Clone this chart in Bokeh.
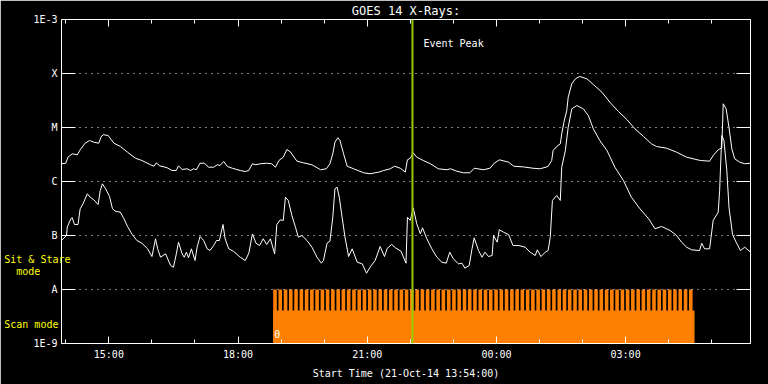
from bokeh.plotting import figure
from bokeh.models import (Range1d, FixedTicker, LinearAxis, LogAxis, Span, Label,
                          CustomJSTickFormatter)
from bokeh.embed import file_html
from bokeh.resources import INLINE

# ---------------- data (time in minutes after 21-Oct-14 13:54:00, flux in W/m^2) -------------
long_t = [0, 6, 9, 15, 22, 26, 33, 39, 45, 52,
          55, 58, 65, 73, 82, 92, 103, 112, 124, 129,
          132, 137, 147, 154, 160, 163, 168, 175, 180, 184,
          188, 193, 199, 205, 212, 217, 221, 226, 231, 238,
          249, 256, 261, 266, 270, 277, 286, 293, 298, 303,
          309, 314, 319, 328, 337, 349, 361, 369, 374, 378,
          381, 385, 388, 393, 398, 407, 421, 430, 442, 449,
          458, 464, 472, 479, 482, 486, 490, 495, 504, 514,
          525, 537, 542, 551, 560, 569, 575, 588, 597, 603,
          610, 623, 630, 644, 657, 667, 678, 683, 685, 690,
          695, 697, 700, 704, 706, 711, 716, 722, 732, 741,
          753, 764, 776, 788, 799, 811, 822, 829, 843, 857,
          871, 890, 903, 908, 915, 920, 922, 926, 930, 934,
          938, 945, 952, 960]
long_flux = [2.13e-6, 2.18e-6, 2.82e-6, 3.26e-6, 3.12e-6, 3.86e-6, 5.12e-6, 5.74e-6, 5.34e-6, 5.12e-6,
             6.64e-6, 7.36e-6, 7.11e-6, 5.12e-6, 4.45e-6, 3.49e-6, 2.70e-6, 2.45e-6, 2.04e-6, 1.92e-6,
             2.22e-6, 1.95e-6, 1.80e-6, 1.60e-6, 1.60e-6, 1.95e-6, 1.67e-6, 1.72e-6, 1.60e-6, 1.72e-6,
             1.65e-6, 2.18e-6, 2.18e-6, 1.84e-6, 1.84e-6, 2.04e-6, 1.98e-6, 2.35e-6, 1.90e-6, 1.76e-6,
             1.60e-6, 1.53e-6, 1.60e-6, 2.13e-6, 2.04e-6, 2.13e-6, 2.18e-6, 2.13e-6, 1.84e-6, 2.45e-6,
             2.82e-6, 3.91e-6, 3.52e-6, 2.38e-6, 2.22e-6, 2.04e-6, 1.65e-6, 1.72e-6, 2.13e-6, 3.26e-6,
             5.34e-6, 6.45e-6, 5.74e-6, 3.26e-6, 1.92e-6, 1.72e-6, 1.45e-6, 1.39e-6, 1.49e-6, 1.60e-6,
             1.72e-6, 1.92e-6, 1.76e-6, 1.49e-6, 2.52e-6, 2.70e-6, 3.40e-6, 2.82e-6, 2.45e-6, 2.13e-6,
             1.72e-6, 1.65e-6, 1.72e-6, 1.55e-6, 1.45e-6, 1.45e-6, 1.76e-6, 1.65e-6, 1.76e-6, 2.18e-6,
             2.52e-6, 2.28e-6, 1.92e-6, 1.86e-6, 1.76e-6, 1.72e-6, 1.90e-6, 2.45e-6, 3.75e-6, 4.45e-6,
             4.99e-6, 7.64e-6, 1.25e-5, 2.06e-5, 3.64e-5, 6.44e-5, 7.98e-5, 8.80e-5, 7.98e-5, 6.25e-5,
             4.51e-5, 2.94e-5, 1.98e-5, 1.39e-5, 9.46e-6, 6.81e-6, 4.99e-6, 4.45e-6, 4.14e-6, 3.49e-6,
             2.82e-6, 2.45e-6, 2.38e-6, 3.03e-6, 3.86e-6, 4.21e-6, 2.75e-5, 2.22e-5, 1.01e-5, 4.03e-6,
             2.63e-6, 2.28e-6, 2.13e-6, 2.18e-6]

short_t = [0, 7, 8, 13, 15, 18, 23, 26, 30, 36,
           40, 45, 51, 54, 57, 61, 67, 71, 75, 82,
           87, 92, 98, 105, 112, 120, 126, 131, 134, 138,
           145, 152, 156, 160, 163, 168, 171, 174, 177, 181,
           186, 189, 193, 198, 203, 207, 212, 216, 220, 225,
           228, 233, 240, 249, 256, 261, 266, 271, 276, 281,
           286, 291, 297, 300, 305, 309, 312, 316, 321, 326,
           330, 335, 342, 349, 356, 362, 365, 370, 374, 378,
           381, 384, 387, 391, 395, 400, 405, 412, 419, 425,
           430, 437, 444, 450, 454, 460, 466, 473, 480, 482,
           486, 490, 495, 500, 503, 509, 516, 523, 530, 536,
           541, 546, 553, 558, 562, 568, 572, 575, 581, 586,
           590, 595, 600, 602, 607, 610, 616, 623, 629, 637,
           646, 653, 660, 663, 668, 674, 678, 681, 684, 690,
           695, 697, 702, 706, 711, 718, 727, 734, 741, 750,
           760, 771, 783, 794, 806, 818, 827, 836, 848, 857,
           864, 871, 878, 889, 892, 896, 903, 908, 915, 917,
           920, 923, 927, 930, 935, 940, 946, 952, 960]
short_flux = [8.08e-8, 1.00e-7, 1.42e-7, 2.04e-7, 2.13e-7, 1.60e-7, 1.60e-7, 3.12e-7, 3.86e-7, 5.92e-7,
              5.12e-7, 4.58e-7, 3.75e-7, 6.81e-7, 9.06e-7, 7.51e-7, 5.27e-7, 3.12e-7, 2.82e-7, 2.70e-7,
              2.04e-7, 1.47e-7, 1.07e-7, 8.08e-8, 7.20e-8, 5.67e-8, 4.08e-8, 8.69e-8, 5.67e-8, 3.96e-8,
              4.58e-8, 2.78e-8, 2.59e-8, 4.58e-8, 7.51e-8, 4.58e-8, 3.96e-8, 4.91e-8, 3.86e-8, 5.67e-8,
              3.44e-8, 6.07e-8, 9.58e-8, 8.08e-8, 5.67e-8, 5.27e-8, 6.53e-8, 8.08e-8, 8.08e-8, 1.60e-7,
              8.69e-8, 5.67e-8, 5.06e-8, 3.96e-8, 3.44e-8, 4.70e-8, 1.07e-7, 7.20e-8, 6.53e-8, 8.69e-8,
              6.81e-8, 8.69e-8, 4.58e-8, 1.60e-7, 1.95e-7, 1.90e-7, 5.12e-7, 4.45e-7, 2.35e-7, 1.42e-7,
              9.31e-8, 1.00e-7, 8.08e-8, 6.07e-8, 3.96e-8, 3.07e-8, 3.44e-8, 7.20e-8, 7.84e-8, 2.18e-7,
              7.33e-7, 7.83e-7, 5.12e-7, 2.18e-7, 9.31e-8, 4.08e-8, 5.67e-8, 3.20e-8, 2.99e-8, 2.00e-8,
              2.59e-8, 3.44e-8, 6.25e-8, 4.08e-8, 5.82e-8, 6.81e-8, 5.82e-8, 5.12e-8, 3.07e-8, 2.18e-7,
              1.90e-7, 3.26e-7, 1.65e-7, 1.07e-7, 1.39e-7, 8.69e-8, 5.67e-8, 3.96e-8, 3.20e-8, 3.07e-8,
              4.91e-8, 3.70e-8, 2.99e-8, 3.07e-8, 2.48e-8, 2.78e-8, 5.67e-8, 9.06e-8, 5.27e-8, 3.96e-8,
              4.91e-8, 4.08e-8, 4.26e-8, 1.00e-7, 7.51e-8, 1.28e-7, 1.15e-7, 1.04e-7, 6.53e-8, 6.53e-8,
              6.07e-8, 4.91e-8, 4.26e-8, 5.43e-8, 4.08e-8, 4.91e-8, 5.27e-8, 9.31e-8, 4.45e-7, 5.51e-7,
              4.45e-7, 1.84e-6, 3.75e-6, 1.01e-5, 2.22e-5, 2.55e-5, 2.22e-5, 1.67e-5, 9.46e-6, 5.74e-6,
              3.75e-6, 1.84e-6, 1.04e-6, 5.12e-7, 3.12e-7, 2.04e-7, 1.33e-7, 1.47e-7, 1.24e-7, 1.00e-7,
              7.51e-8, 6.07e-8, 5.43e-8, 5.27e-8, 7.20e-8, 5.67e-8, 5.67e-8, 1.90e-7, 2.70e-7, 6.81e-7,
              7.11e-6, 5.74e-6, 1.60e-6, 3.34e-7, 1.04e-7, 7.51e-8, 5.27e-8, 6.07e-8, 4.91e-8]

# IRIS scan-mode raster start times (minutes) and the scan window
raster_start = [295.0, 302.3, 309.7, 317.0, 324.3, 331.7, 339.0, 346.3, 353.6, 361.0,
                368.3, 375.6, 383.0, 390.3, 397.6, 405.0, 412.3, 419.6, 427.0, 434.3,
                441.6, 449.0, 456.3, 463.6, 471.0, 478.3, 485.6, 493.0, 500.3, 507.6,
                515.0, 522.3, 529.6, 537.0, 544.3, 551.6, 559.0, 566.3, 573.6, 581.0,
                588.3, 595.6, 603.0, 610.3, 617.6, 625.0, 632.3, 639.6, 647.0, 654.3,
                661.6, 669.0, 676.3, 683.6, 691.0, 698.3, 705.6, 713.0, 720.3, 727.6,
                735.0, 742.3, 749.6, 757.0, 764.3, 771.6, 779.0, 786.3, 793.6, 801.0,
                808.3, 815.6, 823.0, 830.3, 837.6, 845.0, 852.3, 859.6, 867.0, 874.3]
raster_end = [t + 5.0 for t in raster_start]
scan_start = 295.0
scan_end = 882.0
scan_base_top = 4.1e-9
raster_top = 1e-8

event_peak = 489

x_major = [66, 246, 426, 606, 786]
x_labels = ["15:00", "18:00", "21:00", "00:00", "03:00"]
x_minor = [6, 66, 126, 186, 246, 306, 366, 426, 486, 546, 606, 666, 726, 786, 846, 906]

y_ticks = [1e-9, 1e-8, 1e-7, 1e-6, 1e-5, 1e-4, 1e-3]
y_labels = ["1E-9", "A", "B", "C", "M", "X", "1E-3"]

# observing-mode notes on the left margin
mode_pos = [2.25e-9, 2.15e-8, 3.59e-8]
mode_labels = ["Scan mode\u00a0\u00a0", "mode" + "\u00a0" * 5, "Sit & Stare"]

FONT = "DejaVu Sans Mono"
FS = "10px"

p = figure(width=768, height=384, output_backend="svg", toolbar_location=None,
           y_axis_type="log", x_range=Range1d(0, 960), y_range=Range1d(1e-9, 1e-3),
           min_border_left=61, min_border_right=18, min_border_top=19, min_border_bottom=41,
           background_fill_color="black", border_fill_color="black",
           outline_line_color=None)
p.title.text = "GOES 14 X-Rays:"
p.title.align = "center"
p.title.text_color = "white"
p.title.text_font = FONT
p.title.text_font_size = "12px"
p.title.text_font_style = "normal"
p.title.standoff = 3


def style(ax, tin, minor_in):
    ax.axis_line_color = "white"
    ax.axis_line_width = 1
    ax.major_tick_line_color = "white"
    ax.major_tick_in = tin
    ax.major_tick_out = 0
    if minor_in is None:
        ax.minor_tick_line_color = None
    else:
        ax.minor_tick_line_color = "white"
        ax.minor_tick_in = minor_in
        ax.minor_tick_out = 0
    ax.major_label_text_color = "white"
    ax.major_label_text_font = FONT
    ax.major_label_text_font_size = FS


LOGMAP = """
    const e = Math.log10(tick);
    for (let i = 0; i < pos.length; i++) {
        if (Math.abs(Math.log10(pos[i]) - e) < 1e-3) return names[i];
    }
    return '';
"""

# bottom axis
xa = p.xaxis[0]
xa.ticker = FixedTicker(ticks=x_major, minor_ticks=x_minor)
xa.major_label_overrides = dict(zip(x_major, x_labels))
style(xa, 7, 4)
xa.major_label_standoff = 5
xa.axis_label = "Start Time (21-Oct-14 13:54:00)"
xa.axis_label_text_color = "white"
xa.axis_label_text_font = FONT
xa.axis_label_text_font_size = FS
xa.axis_label_text_font_style = "normal"
xa.axis_label_standoff = 5

# left axis
ya = p.yaxis[0]
ya.ticker = FixedTicker(ticks=y_ticks)
ya.formatter = CustomJSTickFormatter(args=dict(pos=y_ticks, names=y_labels), code=LOGMAP)
style(ya, 14, None)
ya.major_label_standoff = 4

# yellow mode notes as a label-only axis
ma = LogAxis(ticker=FixedTicker(ticks=mode_pos),
             formatter=CustomJSTickFormatter(args=dict(pos=mode_pos, names=mode_labels), code=LOGMAP))
style(ma, 0, None)
ma.axis_line_color = None
ma.major_tick_line_color = None
ma.major_label_text_color = "#ffff00"
ma.major_label_standoff = -40
p.add_layout(ma, "left")

# mirrored axes (ticks only)
top = LinearAxis(ticker=FixedTicker(ticks=x_major, minor_ticks=x_minor),
                 formatter=CustomJSTickFormatter(code="return '';"))
style(top, 7, 4)
top.major_label_standoff = 0
top.major_label_text_font_size = "0px"
p.add_layout(top, "above")
right = LogAxis(ticker=FixedTicker(ticks=y_ticks), formatter=CustomJSTickFormatter(code="return '';"))
style(right, 14, None)
right.major_label_standoff = 0
right.major_label_text_font_size = "0px"
p.add_layout(right, "right")

# grid
p.xgrid.visible = False
p.ygrid.ticker = FixedTicker(ticks=y_ticks[1:-1])
p.ygrid.grid_line_color = "white"
p.ygrid.grid_line_dash = "1 5"
p.ygrid.grid_line_width = 1
p.ygrid.level = "guide"

# scan-mode bars
p.quad(left=[scan_start], right=[scan_end], bottom=[1e-9], top=[scan_base_top],
       fill_color="#ff8000", line_color=None)
p.quad(left=raster_start, right=raster_end, bottom=[1e-9] * len(raster_start),
       top=[raster_top] * len(raster_start), fill_color="#ff8000", line_color=None)

# GOES curves
p.line(long_t, long_flux, line_color="white", line_width=1)
p.line(short_t, short_flux, line_color="white", line_width=1)

# event peak
p.add_layout(Span(location=event_peak, dimension="height", line_color="#99cc00", line_width=2))
p.add_layout(Label(x=event_peak, y=3.6e-4, x_offset=11, text="Event Peak", text_color="white",
                   text_font=FONT, text_font_size=FS, text_baseline="middle"))
p.add_layout(Label(x=scan_start, y=1.53e-9, x_offset=1, text="0", text_color="white",
                   text_font=FONT, text_font_size=FS, text_baseline="middle"))

open("out.html", "w").write(file_html(p, INLINE))
